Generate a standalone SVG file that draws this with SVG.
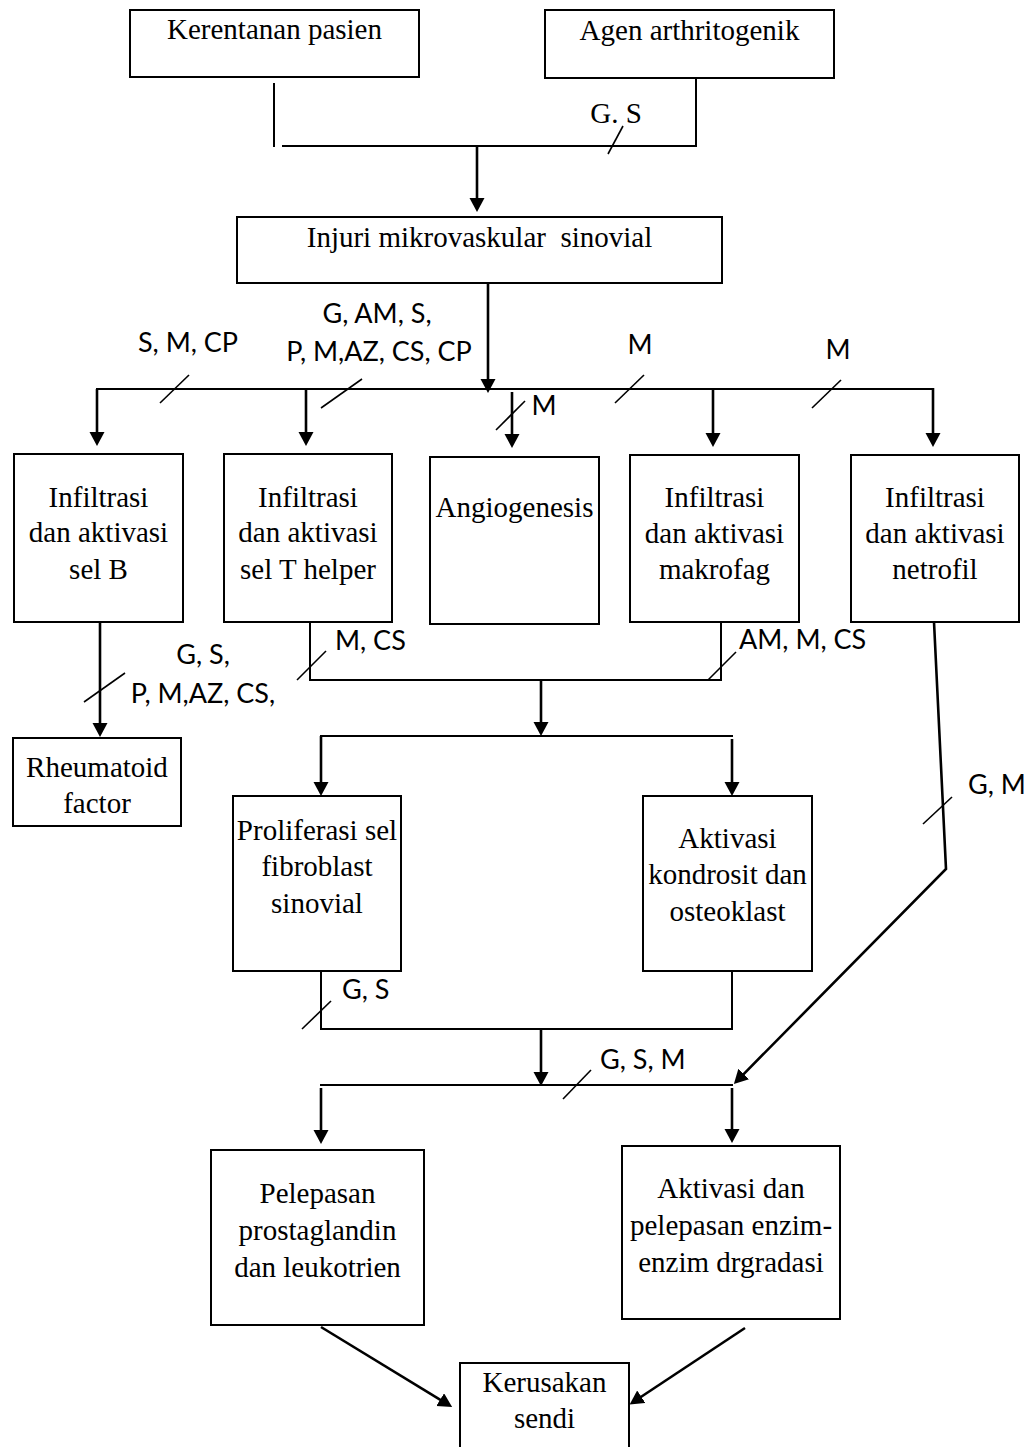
<svg xmlns="http://www.w3.org/2000/svg" width="1026" height="1447" viewBox="0 0 1026 1447">
<style>
.box{fill:#fff;stroke:#000;stroke-width:2}
.t{font-family:"Liberation Serif","Times New Roman",serif;font-size:29px;fill:#000;text-anchor:middle}
.lb{font-family:Lato,"Open Sans",sans-serif;font-size:27px;fill:#000}
.ln{fill:none;stroke:#000;stroke-width:2}
.ar{fill:none;stroke:#000;stroke-width:2.6;marker-end:url(#ah)}
.tk{stroke:#000;stroke-width:1.6}
</style>
<defs>
<marker id="ah" markerUnits="userSpaceOnUse" markerWidth="16" markerHeight="16" refX="6" refY="7.5" orient="auto">
<path d="M0,0 L14,7.5 L0,15 z" fill="#000"/>
</marker>
</defs>
<rect width="1026" height="1447" fill="#fff"/>

<g id="connectors">
<line class="ln" x1="274" y1="83" x2="274" y2="147"/>
<line class="ln" x1="282" y1="146" x2="697" y2="146"/>
<line class="ln" x1="696" y1="78" x2="696" y2="147"/>
<line class="ar" x1="477" y1="146" x2="477" y2="204"/>
<line class="tk" x1="608" y1="154" x2="623" y2="126"/>

<line class="ar" x1="488" y1="283" x2="488" y2="385"/>
<line class="ln" x1="96" y1="389" x2="934" y2="389"/>
<line class="ar" x1="97" y1="389" x2="97" y2="438"/>
<line class="ar" x1="306" y1="389" x2="306" y2="438"/>
<line class="ar" x1="512" y1="392" x2="512" y2="440"/>
<line class="ar" x1="713" y1="389" x2="713" y2="439"/>
<line class="ar" x1="933" y1="388" x2="933" y2="439"/>
<line class="tk" x1="160" y1="403" x2="189" y2="375"/>
<line class="tk" x1="321" y1="408" x2="362" y2="379"/>
<line class="tk" x1="496" y1="430" x2="525" y2="401"/>
<line class="tk" x1="615" y1="403" x2="644" y2="375"/>
<line class="tk" x1="812" y1="408" x2="841" y2="380"/>

<line class="ar" x1="100" y1="622" x2="100" y2="729"/>
<line class="tk" x1="84" y1="702" x2="125" y2="673"/>
<polyline class="ln" points="310,622 310,680 721,680 721,622"/>
<line class="tk" x1="297" y1="680" x2="326" y2="651"/>
<line class="tk" x1="708" y1="680" x2="736" y2="652"/>
<line class="ar" x1="541" y1="680" x2="541" y2="728"/>
<line class="ln" x1="320" y1="736" x2="733" y2="736"/>
<line class="ar" x1="321" y1="736" x2="321" y2="788"/>
<line class="ar" x1="732" y1="739" x2="732" y2="788"/>

<polyline class="ar" points="934,622 946,869 739.5,1078.3"/>
<line class="tk" x1="923" y1="824" x2="952" y2="797"/>

<polyline class="ln" points="321,971 321,1029 732,1029 732,971"/>
<line class="tk" x1="302" y1="1029" x2="331" y2="1001"/>
<line class="ar" x1="541" y1="1029" x2="541" y2="1078"/>
<line class="ln" x1="320" y1="1085" x2="733" y2="1085"/>
<line class="tk" x1="563" y1="1099" x2="591" y2="1070"/>
<line class="ar" x1="321" y1="1088" x2="321" y2="1136"/>
<line class="ar" x1="732" y1="1088" x2="732" y2="1135"/>

<line class="ar" x1="321" y1="1327" x2="445.3" y2="1402.8"/>
<line class="ar" x1="745" y1="1328" x2="636.3" y2="1400"/>
</g>

<g id="labels">
<text class="t" x="616" y="123" style="font-size:29px">G. S</text>
<text class="lb" x="188" y="352" text-anchor="middle">S, M, CP</text>
<text class="lb" x="377" y="323" text-anchor="middle">G, AM, S,</text>
<text class="lb" x="379" y="361" text-anchor="middle">P, M,AZ, CS, CP</text>
<text class="lb" x="640" y="354" text-anchor="middle">M</text>
<text class="lb" x="838" y="359" text-anchor="middle">M</text>
<text class="lb" x="544" y="415" text-anchor="middle">M</text>
<text class="lb" x="203" y="664" text-anchor="middle">G, S,</text>
<text class="lb" x="203" y="703" text-anchor="middle">P, M,AZ, CS,</text>
<text class="lb" x="335" y="650">M, CS</text>
<text class="lb" x="739" y="649">AM, M, CS</text>
<text class="lb" x="968" y="794">G, M</text>
<text class="lb" x="342" y="999">G, S</text>
<text class="lb" x="600" y="1069">G, S, M</text>
</g>

<g id="n-kerentanan">
<rect class="box" x="130" y="10" width="289" height="67"/>
<text class="t" x="274.5" y="39">Kerentanan pasien</text>
</g>
<g id="n-agen">
<rect class="box" x="545" y="10" width="289" height="68"/>
<text class="t" x="689.5" y="40">Agen arthritogenik</text>
</g>
<g id="n-injuri">
<rect class="box" x="237" y="217" width="485" height="66"/>
<text class="t" x="479.5" y="247" xml:space="preserve">Injuri mikrovaskular  sinovial</text>
</g>
<g id="n-selb">
<rect class="box" x="14" y="454" width="169" height="168"/>
<text class="t" x="98.5" y="507">Infiltrasi</text>
<text class="t" x="98.5" y="542">dan aktivasi</text>
<text class="t" x="98.5" y="579">sel B</text>
</g>
<g id="n-selt">
<rect class="box" x="224" y="454" width="168" height="168"/>
<text class="t" x="308" y="507">Infiltrasi</text>
<text class="t" x="308" y="542">dan aktivasi</text>
<text class="t" x="308" y="579">sel T helper</text>
</g>
<g id="n-angio">
<rect class="box" x="430" y="457" width="169" height="167"/>
<text class="t" x="514.5" y="517">Angiogenesis</text>
</g>
<g id="n-makrofag">
<rect class="box" x="630" y="455" width="169" height="167"/>
<text class="t" x="714.5" y="507">Infiltrasi</text>
<text class="t" x="714.5" y="543">dan aktivasi</text>
<text class="t" x="714.5" y="579">makrofag</text>
</g>
<g id="n-netrofil">
<rect class="box" x="851" y="455" width="168" height="167"/>
<text class="t" x="935" y="507">Infiltrasi</text>
<text class="t" x="935" y="543">dan aktivasi</text>
<text class="t" x="935" y="579">netrofil</text>
</g>
<g id="n-rheumatoid">
<rect class="box" x="13" y="738" width="168" height="88"/>
<text class="t" x="97" y="777">Rheumatoid</text>
<text class="t" x="97" y="813">factor</text>
</g>
<g id="n-proliferasi">
<rect class="box" x="233" y="796" width="168" height="175"/>
<text class="t" x="317" y="840">Proliferasi sel</text>
<text class="t" x="317" y="876">fibroblast</text>
<text class="t" x="317" y="913">sinovial</text>
</g>
<g id="n-kondrosit">
<rect class="box" x="643" y="796" width="169" height="175"/>
<text class="t" x="727.5" y="848">Aktivasi</text>
<text class="t" x="727.5" y="884">kondrosit dan</text>
<text class="t" x="727.5" y="921">osteoklast</text>
</g>
<g id="n-pelepasan">
<rect class="box" x="211" y="1150" width="213" height="175"/>
<text class="t" x="317.5" y="1203">Pelepasan</text>
<text class="t" x="317.5" y="1240">prostaglandin</text>
<text class="t" x="317.5" y="1277">dan leukotrien</text>
</g>
<g id="n-enzim">
<rect class="box" x="622" y="1146" width="218" height="173"/>
<text class="t" x="731" y="1198">Aktivasi dan</text>
<text class="t" x="731" y="1235">pelepasan enzim-</text>
<text class="t" x="731" y="1272">enzim drgradasi</text>
</g>
<g id="n-kerusakan">
<rect class="box" x="460" y="1363" width="169" height="100"/>
<text class="t" x="544.5" y="1392">Kerusakan</text>
<text class="t" x="544.5" y="1428">sendi</text>
</g>
</svg>
